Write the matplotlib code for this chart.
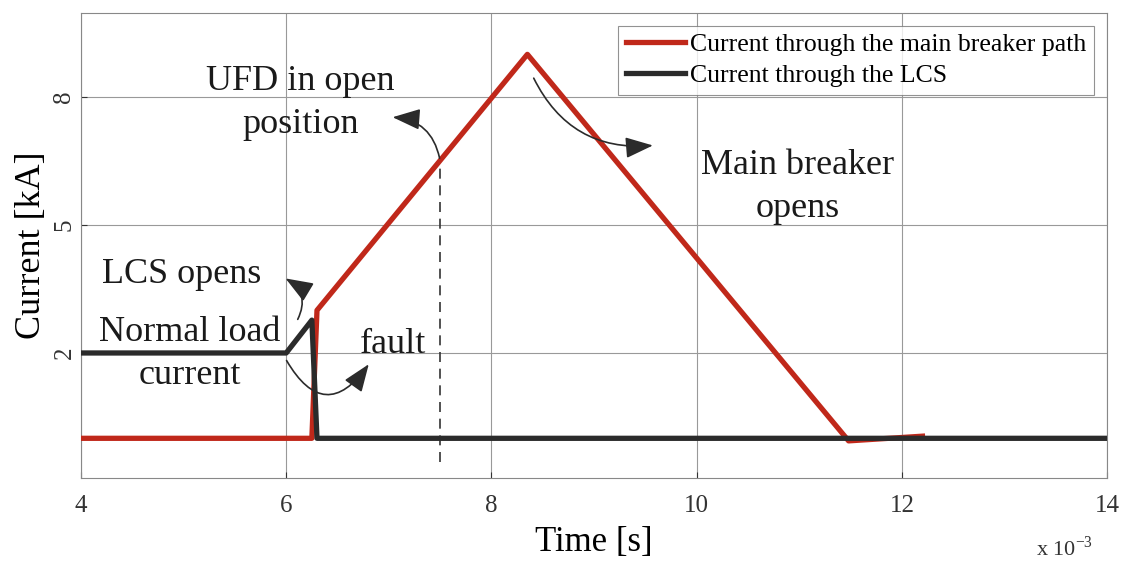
import matplotlib.pyplot as plt

plt.rcParams['font.family'] = ['Liberation Serif', 'DejaVu Serif']

# time in ms (axis shows x 10^-3 s), current in kA
t_main = [4.0, 6.25, 6.3, 8.35, 11.48, 12.2]
i_main = [0.0, 0.0, 3.0, 9.0, -0.06, 0.05]

t_lcs = [4.0, 6.0, 6.25, 6.3, 14.0]
i_lcs = [2.0, 2.0, 2.77, 0.0, 0.0]

t_ufd = 7.5
x_ticks = [4, 6, 8, 10, 12, 14]
y_ticks = [2, 5, 8]

red = '#c0281a'
dark = '#2b2b2b'

fig = plt.figure(figsize=(11.29, 5.63), dpi=100)
ax = fig.add_axes([0.0717, 0.151, 0.909, 0.826])

ax.plot(t_main, i_main, color=red, lw=3.8, label='Current through the main breaker path', zorder=3)
ax.plot(t_lcs, i_lcs, color=dark, lw=3.8, label='Current through the LCS', zorder=4)

# dashed marker where UFD is open
ufd_i = i_main[2] + (t_ufd - t_main[2]) * (i_main[3] - i_main[2]) / (t_main[3] - t_main[2])
ax.plot([t_ufd, t_ufd], [-0.55, ufd_i], color='#333333', lw=1.2, ls=(0, (6, 4)), zorder=2)

ax.set_xlim(4, 14)
ax.set_ylim(-0.93, 9.97)
ax.set_xticks(x_ticks)
ax.set_yticks(y_ticks)
ax.grid(True, color='#999999', lw=0.8)
ax.tick_params(direction='in', length=4, labelsize=18, colors='#333333')
ax.tick_params(axis='x', pad=12)
ax.tick_params(axis='y', pad=4)
for lab in ax.get_yticklabels():
    lab.set_rotation(90)
    lab.set_va('center')
for s in ax.spines.values():
    s.set_color('#888888')

ax.set_xlabel('Time [s]', fontsize=25, labelpad=7)
ax.set_ylabel('Current [kA]', fontsize=26, labelpad=4)
fig.text(0.918, 0.012, r'x 10$^{\mathregular{-3}}$', fontsize=16, color='#333333')

leg = ax.legend(loc='upper right', fontsize=18.5, frameon=True, fancybox=False,
                edgecolor='#777777', handlelength=2.3, handletextpad=0.2,
                borderpad=0.3, labelspacing=0.3, bbox_to_anchor=(1.0, 1.0))
leg.get_frame().set_linewidth(0.8)

txt = dict(fontsize=26, color='#1a1a1a', ha='center', va='center', linespacing=1.4)
ax.text(6.14, 7.85, 'UFD in open\nposition', **txt)
ax.text(10.98, 5.89, 'Main breaker\nopens', **txt)
ax.text(4.98, 3.83, 'LCS opens', **txt)
ax.text(5.06, 1.98, 'Normal load\ncurrent', **txt)
ax.text(7.04, 2.19, 'fault', **txt)

arr = dict(arrowstyle='-|>,head_length=1.7,head_width=0.65', color='#2b2b2b', lw=1.2)
ax.annotate('', xy=(7.01, 7.53), xytext=(7.5, 6.5),
            arrowprops=dict(**arr, connectionstyle='arc3,rad=0.4'))
ax.annotate('', xy=(9.6, 6.87), xytext=(8.4, 8.5),
            arrowprops=dict(**arr, connectionstyle='arc3,rad=0.35'))
ax.annotate('', xy=(5.97, 3.78), xytext=(6.1, 2.73),
            arrowprops=dict(**arr, connectionstyle='arc3,rad=0.5'))
ax.annotate('', xy=(6.82, 1.79), xytext=(5.99, 1.88),
            arrowprops=dict(**arr, connectionstyle='arc3,rad=0.8'))

fig.savefig('out.png', dpi=100)
